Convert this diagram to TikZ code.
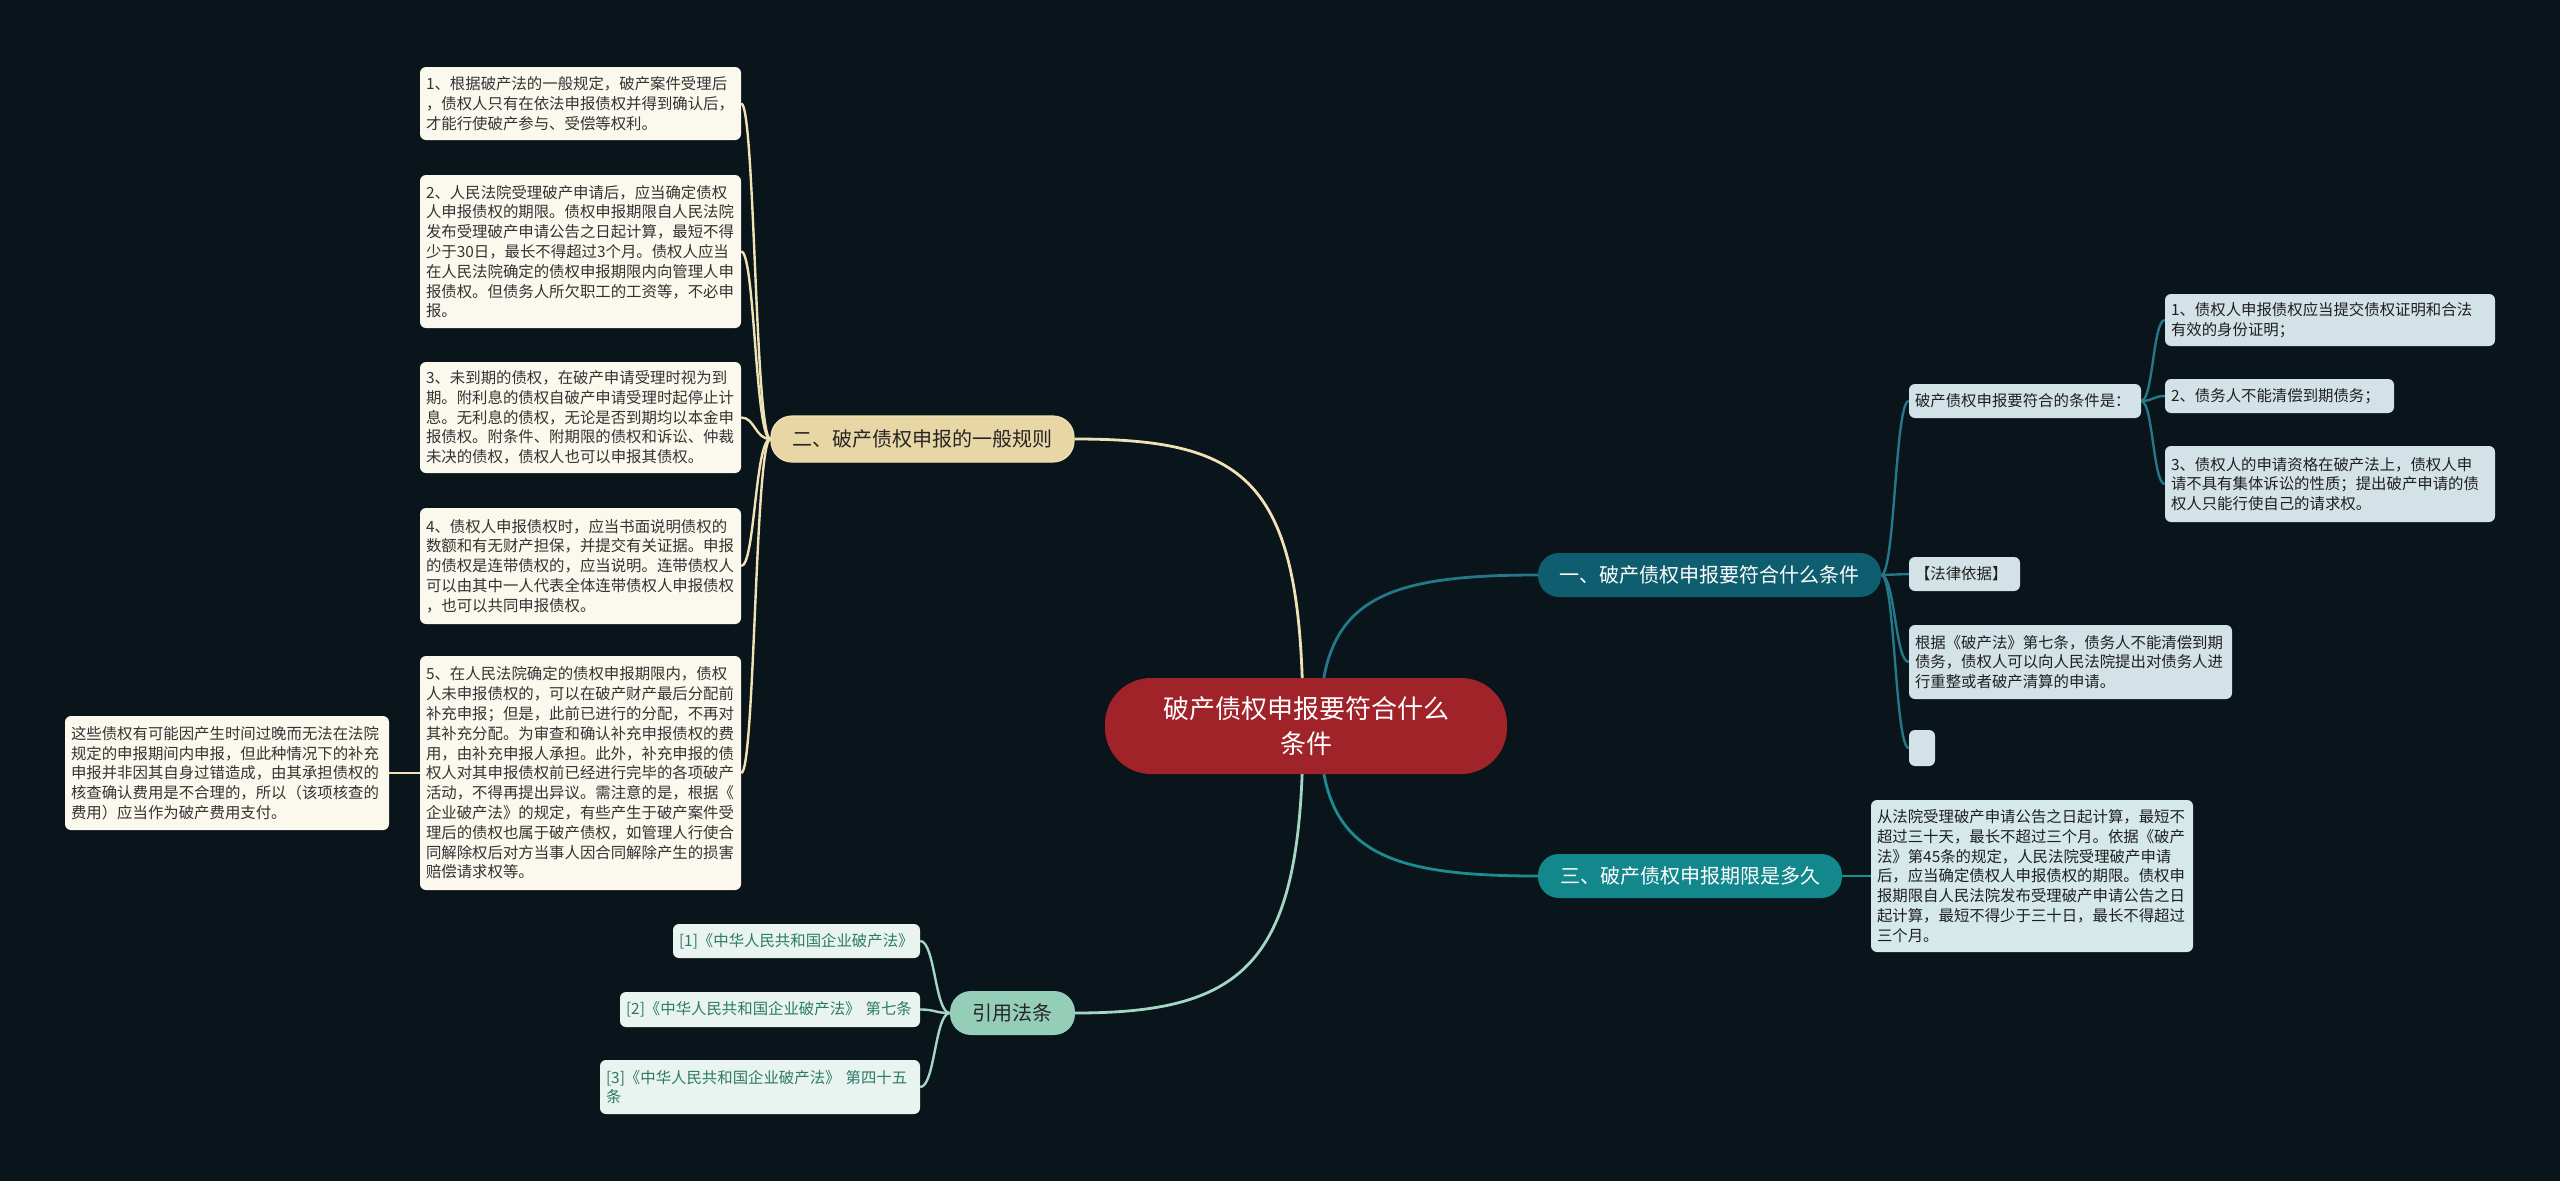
\documentclass[tikz,border=0pt]{standalone}
\usepackage{fontspec}
\setmainfont{Noto Sans CJK SC}
\usetikzlibrary{calc}
\pgfdeclarelayer{back}
\pgfdeclarelayer{bg}
\pgfsetlayers{back,bg,main}
\definecolor{bgc}{HTML}{0A141B}
\definecolor{cream}{HTML}{FBF8EE}
\definecolor{creamtxt}{HTML}{333333}
\definecolor{rbox}{HTML}{D3E2E7}
\definecolor{rtxt}{HTML}{1F1F1F}
\definecolor{tbox}{HTML}{D5E9EB}
\definecolor{mbox}{HTML}{E9F4F0}
\definecolor{mtxt}{HTML}{2C7A66}
\definecolor{redc}{HTML}{9F2329}
\definecolor{tanc}{HTML}{E8D6A5}
\definecolor{tanline}{HTML}{EFE2B5}
\definecolor{tealA}{HTML}{0F5E6F}
\definecolor{tealAline}{HTML}{23788A}
\definecolor{tealB}{HTML}{12878C}
\definecolor{tealBline}{HTML}{1B8C90}
\definecolor{mintc}{HTML}{94CEB8}
\definecolor{mintline}{HTML}{A5D6C4}
\begin{document}
\begin{tikzpicture}[x=1pt,y=-1pt,
  leafbase/.style={rounded corners=6pt, font=\fontsize{15.4}{19.8}\selectfont, align=left, inner xsep=6pt, inner ysep=0pt},
  leafL/.style={leafbase, fill=cream, text=creamtxt},
  leafR/.style={leafbase, fill=rbox, text=rtxt},
  leafT/.style={leafbase, fill=tbox, text=rtxt},
  leafM/.style={leafbase, fill=mbox, text=mtxt},
  pill/.style={inner sep=0pt, rounded corners=21pt, font=\fontsize{20}{24}\selectfont, align=center},
  conn/.style={line width=2.4pt},
]
\useasboundingbox (0,0) rectangle (2560,1181);
\begin{pgfonlayer}{back}
\fill[bgc] (0,0) rectangle (2560,1181);
\end{pgfonlayer}

% central
\node[fill=redc, text=white, inner sep=0pt, rounded corners=46pt, minimum width=402pt, minimum height=96pt, align=center, font=\fontsize{26}{35}\selectfont] (c) at (1306,726) {破产债权申报要符合什么\\条件};

% branches
\node[pill, fill=tanc, draw=tanline, line width=1.2pt, text=black!85, minimum width=303pt, minimum height=46pt] (b2) at (922.5,439) {二、破产债权申报的一般规则};
\node[pill, fill=tealA, text=white, minimum width=343pt, minimum height=44pt] (b1) at (1709.5,575) {一、破产债权申报要符合什么条件};
\node[pill, fill=tealB, text=white, minimum width=304pt, minimum height=44pt] (b3) at (1690,876) {三、破产债权申报期限是多久};
\node[pill, fill=mintc, text=black!85, minimum width=125pt, minimum height=44pt] (rf) at (1012.5,1013) {引用法条};

% left leaves
\node[leafL, text width=309pt, minimum height=73pt] (l1) at (580.5,103.5) {1、根据破产法的一般规定，破产案件受理后\\，债权人只有在依法申报债权并得到确认后，\\才能行使破产参与、受偿等权利。};
\node[leafL, text width=309pt, minimum height=153pt] (l2) at (580.5,251.5) {2、人民法院受理破产申请后，应当确定债权\\人申报债权的期限。债权申报期限自人民法院\\发布受理破产申请公告之日起计算，最短不得\\少于30日，最长不得超过3个月。债权人应当\\在人民法院确定的债权申报期限内向管理人申\\报债权。但债务人所欠职工的工资等，不必申\\报。};
\node[leafL, text width=309pt, minimum height=111pt] (l3) at (580.5,417.5) {3、未到期的债权，在破产申请受理时视为到\\期。附利息的债权自破产申请受理时起停止计\\息。无利息的债权，无论是否到期均以本金申\\报债权。附条件、附期限的债权和诉讼、仲裁\\未决的债权，债权人也可以申报其债权。};
\node[leafL, text width=309pt, minimum height=116pt] (l4) at (580.5,566) {4、债权人申报债权时，应当书面说明债权的\\数额和有无财产担保，并提交有关证据。申报\\的债权是连带债权的，应当说明。连带债权人\\可以由其中一人代表全体连带债权人申报债权\\，也可以共同申报债权。};
\node[leafL, text width=309pt, minimum height=234pt] (l5) at (580.5,773) {5、在人民法院确定的债权申报期限内，债权\\人未申报债权的，可以在破产财产最后分配前\\补充申报；但是，此前已进行的分配，不再对\\其补充分配。为审查和确认补充申报债权的费\\用，由补充申报人承担。此外，补充申报的债\\权人对其申报债权前已经进行完毕的各项破产\\活动，不得再提出异议。需注意的是，根据《\\企业破产法》的规定，有些产生于破产案件受\\理后的债权也属于破产债权，如管理人行使合\\同解除权后对方当事人因合同解除产生的损害\\赔偿请求权等。};
\node[leafL, text width=312pt, minimum height=114pt] (l5c) at (227,773) {这些债权有可能因产生时间过晚而无法在法院\\规定的申报期间内申报，但此种情况下的补充\\申报并非因其自身过错造成，由其承担债权的\\核查确认费用是不合理的，所以（该项核查的\\费用）应当作为破产费用支付。};

% right leaves
\node[leafR, text width=220pt, minimum height=34pt] (k) at (2025,401) {破产债权申报要符合的条件是：};
\node[leafR, text width=318pt, minimum height=52pt] (k1) at (2330,320) {1、债权人申报债权应当提交债权证明和合法\\有效的身份证明；};
\node[leafR, text width=217pt, minimum height=34pt] (k2) at (2279.5,396) {2、债务人不能清偿到期债务；};
\node[leafR, text width=318pt, minimum height=76pt] (k3) at (2330,484) {3、债权人的申请资格在破产法上，债权人申\\请不具有集体诉讼的性质；提出破产申请的债\\权人只能行使自己的请求权。};
\node[leafR, text width=99pt, minimum height=34pt] (law) at (1964.5,574) {【法律依据】};
\node[leafR, text width=311pt, minimum height=74pt] (gen) at (2070.5,662) {根据《破产法》第七条，债务人不能清偿到期\\债务，债权人可以向人民法院提出对债务人进\\行重整或者破产清算的申请。};
\node[fill=rbox, rounded corners=6pt, inner sep=0pt, minimum width=26pt, minimum height=36pt] (emp) at (1922,748) {};

% third branch leaf
\node[leafT, text width=310pt, minimum height=152pt] (t) at (2032,876) {从法院受理破产申请公告之日起计算，最短不\\超过三十天，最长不超过三个月。依据《破产\\法》第45条的规定，人民法院受理破产申请\\后，应当确定债权人申报债权的期限。债权申\\报期限自人民法院发布受理破产申请公告之日\\起计算，最短不得少于三十日，最长不得超过\\三个月。};

% references
\node[leafM, text width=235pt, minimum height=34pt] (r1) at (796.5,941) {[1]《中华人民共和国企业破产法》};
\node[leafM, text width=288pt, minimum height=35pt] (r2) at (770,1009.5) {[2]《中华人民共和国企业破产法》 第七条};
\node[leafM, text width=308pt, minimum height=54pt] (r3) at (760,1087) {[3]《中华人民共和国企业破产法》 第四十五\\条};

\begin{pgfonlayer}{bg}
% center to branches
\draw[conn, line width=2.8pt, tanline] ($(c.center)+(-3,0)$) .. controls (1303,480) and (1250,439) .. (b2.east);
\draw[conn, line width=2.8pt, mintline] ($(c.center)+(-3,0)$) .. controls (1303,960) and (1250,1013) .. (rf.east);
\draw[conn, line width=2.8pt, tealAline] ($(c.center)+(14,0)$) .. controls (1320,600) and (1380,575) .. (b1.west);
\draw[conn, line width=2.8pt, tealBline] ($(c.center)+(14,0)$) .. controls (1320,850) and (1380,876) .. (b3.west);
% branch 2 children
\foreach \n in {l1,l2,l3,l4,l5}{
  \draw[conn, tanline] (b2.west) .. controls (755,439) and (755,0|-\n.east) .. (\n.east);
}
\draw[conn, tanline] (l5.west) -- (l5c.east);
% branch 1 children
\foreach \n in {k,law,gen,emp}{
  \draw[conn, tealAline] (b1.east) .. controls (1895,575) and (1895,0|-\n.west) .. (\n.west);
}
\foreach \n in {k1,k2,k3}{
  \draw[conn, tealAline] (k.east) .. controls (2153,401) and (2153,0|-\n.west) .. (\n.west);
}
% branch 3
\draw[conn, tealBline] (b3.east) -- (t.west);
% references
\foreach \n in {r1,r2,r3}{
  \draw[conn, mintline] (rf.west) .. controls (935,1013) and (935,0|-\n.east) .. (\n.east);
}
\end{pgfonlayer}
\end{tikzpicture}
\end{document}
